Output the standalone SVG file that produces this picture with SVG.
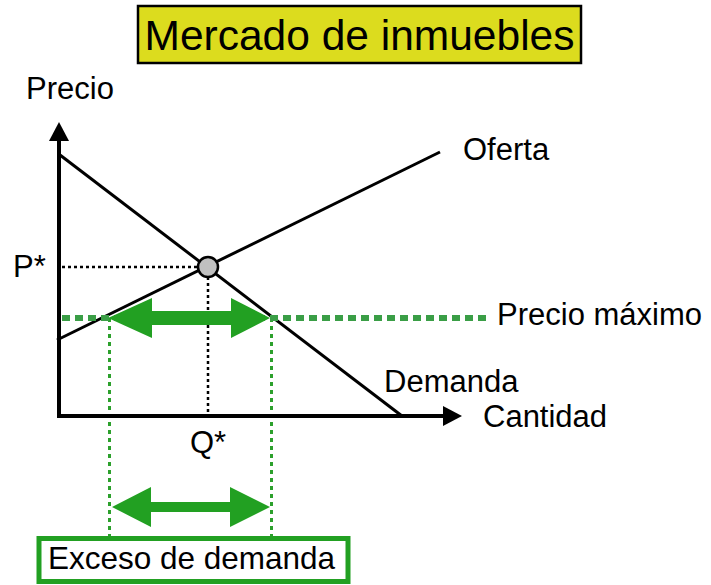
<svg xmlns="http://www.w3.org/2000/svg" width="711" height="585" viewBox="0 0 711 585">
<defs>
<style>
text{font-family:"Liberation Sans",Arial,sans-serif;fill:#000}
.lbl{font-size:31px}
.curve{stroke:#000;stroke-width:3;fill:none}
.axis{stroke:#000;stroke-width:4;fill:none}
.dot{stroke:#000;stroke-width:2.5;stroke-dasharray:3 3;fill:none}
.gdot{stroke:#2ca02c;stroke-width:3;stroke-dasharray:4 4;fill:none}
.gdash{stroke:#3a9e46;stroke-width:6;stroke-dasharray:8 5;fill:none}
.garrow{fill:#22a022}
</style>
</defs>
<rect width="711" height="585" fill="#fff"/>
<g id="title">
<rect x="138" y="6" width="443" height="57" fill="#dcdc1e" stroke="#000" stroke-width="2.5"/>
<text x="359.5" y="49.5" font-size="42.5" text-anchor="middle">Mercado de inmuebles</text>
</g>
<g id="connectors">
<line class="dot" x1="62" y1="267" x2="200" y2="267"/>
<line class="dot" x1="208" y1="277" x2="208" y2="414"/>
<line class="gdot" x1="109.5" y1="318" x2="109.5" y2="537"/>
<line class="gdot" x1="271.5" y1="318" x2="271.5" y2="537"/>
<line class="curve" x1="60" y1="155" x2="402" y2="416"/>
<line class="curve" x1="57" y1="340" x2="440" y2="152"/>
<line class="gdash" x1="62" y1="318" x2="486" y2="318"/>
</g>
<g id="axes">
<line class="axis" x1="59" y1="138" x2="59" y2="418"/>
<polygon points="59,122 49,141 69,141" fill="#000"/>
<line class="axis" x1="57" y1="416" x2="445" y2="416"/>
<polygon points="462,416 443,406 443,426" fill="#000"/>
</g>
<g id="equilibrium">
<circle cx="208" cy="267" r="10" fill="#c0c0c0" stroke="#000" stroke-width="2.5"/>
</g>
<g id="shortage-arrow">
<polygon class="garrow" points="108,318 152,298 152,311 231,311 231,298 270,318 231,338 231,325 152,325 152,338"/>
</g>
<g id="excess-arrow">
<polygon class="garrow" points="112,507 151,487 151,502 230,502 230,487 270,507 230,527 230,512 151,512 151,527"/>
</g>
<g id="labels">
<text class="lbl" x="26" y="99">Precio</text>
<text class="lbl" x="463" y="160">Oferta</text>
<text class="lbl" x="13" y="277">P*</text>
<text class="lbl" x="497" y="325">Precio máximo</text>
<text class="lbl" x="384" y="392">Demanda</text>
<text class="lbl" x="483" y="427">Cantidad</text>
<text class="lbl" x="190" y="453">Q*</text>
</g>
<g id="excess-box">
<rect x="39" y="538.5" width="309" height="43" fill="#fff" stroke="#22a022" stroke-width="5"/>
<text x="191.5" y="569" font-size="31.5" text-anchor="middle">Exceso de demanda</text>
</g>
</svg>
